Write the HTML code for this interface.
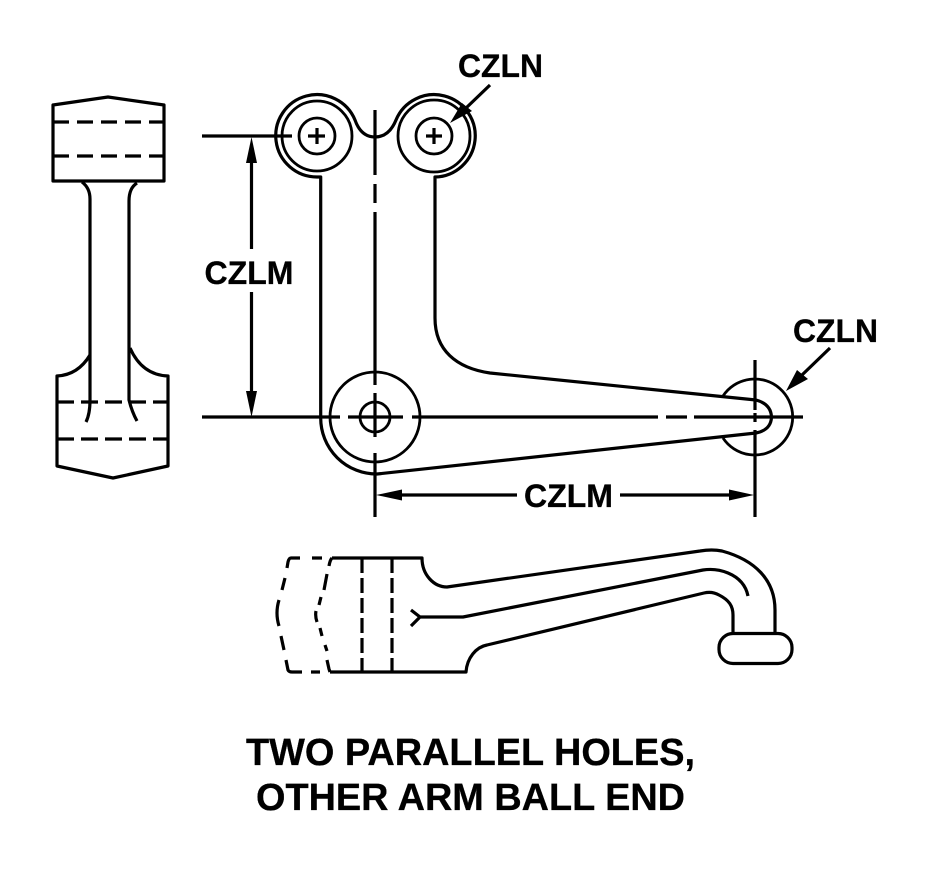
<!DOCTYPE html>
<html>
<head>
<meta charset="utf-8">
<style>
html,body{margin:0;padding:0;background:#fff;width:930px;height:870px;overflow:hidden}
svg{display:block}
text{font-family:"Liberation Sans",Arial,sans-serif;font-weight:bold;fill:#000;stroke:#000;stroke-width:.3}
.s{fill:none;stroke:#000;stroke-width:3.2;stroke-linejoin:round}
.t{fill:none;stroke:#000;stroke-width:2.8}
.f{fill:#000;stroke:none}
</style>
</head>
<body>
<svg width="930" height="870" viewBox="0 0 930 870" xmlns="http://www.w3.org/2000/svg">
<!-- left side view -->
<path class="s" d="M53,105 L108,97 L164,105 V181 H53 Z"/>
<path class="s" d="M53,122 H164 M53,156 H164" stroke-dasharray="16,8"/>
<path class="s" d="M82,182 Q90,188 90,199 V400 Q90,414 86,422"/>
<path class="s" d="M137,183 Q129,188 129,201 V400 Q132,412 137,421"/>
<path class="s" d="M90,355 Q78,375 57,376 V466 L113,478 L168,466 V376 Q142,375 130,348"/>
<path class="s" d="M57,402 H168 M57,439 H168" stroke-dasharray="17,7"/>

<!-- main top view outline -->
<path class="s" d="M320.7,418 V177 H317 A41.2,41.2 0 1 1 355,120 Q361,137 375,137 Q389,137 396,120 A41.2,41.2 0 1 1 435,177 V318 C435,350 456,368 490,373 L756,400 Q771,404 771.5,417 Q771,430 756,433 L377,474 A56,56 0 0 1 320.7,418"/>
<circle class="t" cx="317" cy="136" r="35"/>
<circle class="t" cx="317" cy="136" r="18"/>
<circle class="t" cx="434" cy="136" r="36"/>
<circle class="t" cx="434" cy="136" r="18"/>
<path class="s" d="M308,136 H325 M317,128 V144 M426,136 H442 M434,128 V144"/>
<circle class="t" cx="375" cy="417" r="45"/>
<circle class="t" cx="375" cy="417" r="15"/>
<path class="t" d="M723,396 A38,38 0 1 1 723,438"/>

<!-- center lines -->
<path class="s" d="M375,110 V175 M375,184 V203 M375,212 V385 M375,393 V437 M375,453 V517"/>
<path class="s" d="M202,417 H340 M348,417 H403 M412,417 H658 M666,417 H687 M694,417 H803"/>
<path class="s" d="M755,360 V410 M755,413 V422 M755,430 V517"/>
<path class="s" d="M202,136 H292"/>

<!-- dimensions -->
<path class="s" d="M251.5,160 V249 M251.5,292 V393"/>
<polygon class="f" points="251.5,137 246,163 257,163"/>
<polygon class="f" points="251.5,417 246,391 257,391"/>
<path class="s" d="M400,495 H517 M620,495 H732"/>
<polygon class="f" points="376,495 402,489.500 402,500.500"/>
<polygon class="f" points="754,495 729,489.500 729,500.500"/>
<!-- leaders -->
<path class="s" d="M490,85 L465,109"/>
<polygon class="f" points="450,123 462,103 472,111"/>
<path class="s" d="M830,348 L802,375"/>
<polygon class="f" points="786,391 797,370 808,379"/>

<!-- bottom view -->
<path class="s" d="M332,558 H422 C422,575 434,587 447,587 L700,551 Q712,549 722,551 C755,560 775,580 775,610 V633"/>
<path class="s" d="M330,672 H466 C467,658 476,647 487,645 L704,593 Q712,591 719,595 C729,600 733,606 733,615 V633"/>
<path class="s" d="M411,610 L420,617 L411,626 M420,617 H463 L703,570 Q716,568 728,573 C740,578 746,586 748,596"/>
<rect class="s" x="719" y="633.500" width="73" height="30" rx="14" ry="14"/>
<path class="s" d="M362,558 V672 M392,558 V672" stroke-dasharray="15,5"/>
<!-- phantom ends -->
<path class="s" d="M332,558 Q330,560 329,566 M327,574 L324,590 M321,597 L319,605 M316,611 Q315,616 317,622 M320,628 L322,636 M325,645 L327,651 M327,660 L329,669 L330,672"/>
<path class="s" d="M322,558 H312 M300,558 H291 Q289,558 288,562 L287,568 M285,578 L282,590 M279,600 Q275,613 279,626 M281,636 L284,650 M286,660 L288,670 Q289,672 292,672 H302 M311,672 H320"/>

<!-- labels -->
<text x="458" y="77" font-size="32" textLength="85" lengthAdjust="spacingAndGlyphs">CZLN</text>
<text x="793" y="342" font-size="32" textLength="85" lengthAdjust="spacingAndGlyphs">CZLN</text>
<text x="204.500" y="284" font-size="32" textLength="89" lengthAdjust="spacingAndGlyphs">CZLM</text>
<text x="524" y="507" font-size="32" textLength="89" lengthAdjust="spacingAndGlyphs">CZLM</text>
<text x="246" y="765" font-size="38" textLength="449" lengthAdjust="spacingAndGlyphs">TWO PARALLEL HOLES,</text>
<text x="256" y="810" font-size="38" textLength="429" lengthAdjust="spacingAndGlyphs">OTHER ARM BALL END</text>
</svg>
</body>
</html>
